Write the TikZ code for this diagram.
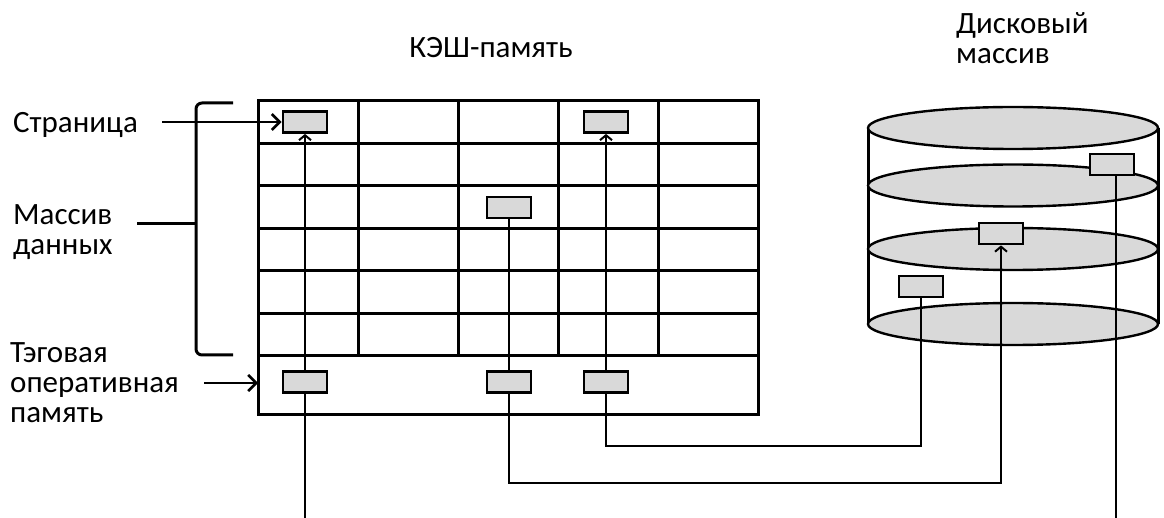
\documentclass[tikz,border=0pt]{standalone}
\usepackage{fontspec}
\setmainfont{Carlito}
\usetikzlibrary{arrows.meta,positioning}
\definecolor{boxgray}{RGB}{217,217,217}

\begin{document}
\begin{tikzpicture}[x=1pt, y=-1pt,
    lbl/.style={font=\fontsize{31}{30}\selectfont, align=left, inner sep=0pt},
    cellline/.style={line width=3pt},
    pagebox/.style={draw, line width=2.8pt, fill=boxgray, minimum width=44pt, minimum height=21pt, inner sep=0pt},
    link/.style={line width=2pt},
    uparr/.style={link, -{Straight Barb[length=5pt, width=12pt, line width=2pt]}},
    arr/.style={line width=2.6pt, -{Straight Barb[length=8pt, width=16pt]}},
    platter/.style={draw, line width=2.4pt, fill=boxgray}]
  \useasboundingbox (0,0) rectangle (1164,518);

  % Cache grid
  \draw[cellline] (258,101) rectangle (758,414);
  \foreach \y in {143.5,186,228.5,271,313.5,356}
    \draw[cellline] (258,\y) -- (758,\y);
  \foreach \x in {358,458,558,658}
    \draw[cellline] (\x,101) -- (\x,356);
  \coordinate (tagRow) at (258,383);

  % Brace
  \draw[cellline, rounded corners=6pt] (233,103) -- (196,103) -- (196,355) -- (233,355);
  \draw[cellline] (196,224) -- (137,224);

  % Disk array
  \draw[line width=3pt] (868,128) -- (868,324) (1158,128) -- (1158,324);
  \foreach \y in {128,185.5,249,324}
    \draw[platter] (1013,\y) ellipse [x radius=145pt, y radius=21pt];

  % Labels (base = last line)
  \node[lbl, anchor=base west] (lblPage) at (13,133) {Страница};
  \node[lbl, anchor=base west] (lblData) at (13,255) {Массив\\данных};
  \node[lbl, anchor=base west] (lblTag) at (10,422) {Тэговая\\оперативная\\память};
  \node[lbl, anchor=base] (lblCache) at (491,58) {КЭШ-память};
  \node[lbl, anchor=base west] (lblDisk) at (956,64) {Дисковый\\массив};

  % Pages in cache
  \node[pagebox] (pA) at (305,122) {};
  \node[pagebox] (pB) at (509,207.5) {};
  \node[pagebox] (pC) at (606,122) {};
  % Tags
  \node[pagebox] (tA) at (305,382) {};
  \node[pagebox] (tB) at (509,382) {};
  \node[pagebox] (tC) at (606,382) {};
  % Pages on disk
  \node[pagebox] (dA) at (1112,164.5) {};
  \node[pagebox] (dB) at (1001,233.5) {};
  \node[pagebox] (dC) at (921,286.5) {};

  \coordinate (outA) at (305,518);
  \coordinate (outD) at (1116,518);
  \coordinate (turnB) at (1001,483);
  \coordinate (turnC) at (921,446);

  % Connections
  \draw[arr] (lblPage.east |- pA.west) ++(24,0) -- (pA.west);
  \draw[arr] (lblTag.east |- tagRow) ++(25,0) -- (tagRow);
  \draw[uparr] (tA.north) -- (pA.south);
  \draw[uparr] (tC.north) -- (pC.south);
  \draw[link] (tB.north) -- (pB.south);
  \draw[link] (tA.south) -- (outA);
  \draw[uparr] (tB.south) |- (turnB) -- (dB.south);
  \draw[link] (tC.south) |- (turnC) -- (dC.south);
  \draw[link] (dA.south -| outD) -- (outD);
\end{tikzpicture}
\end{document}
